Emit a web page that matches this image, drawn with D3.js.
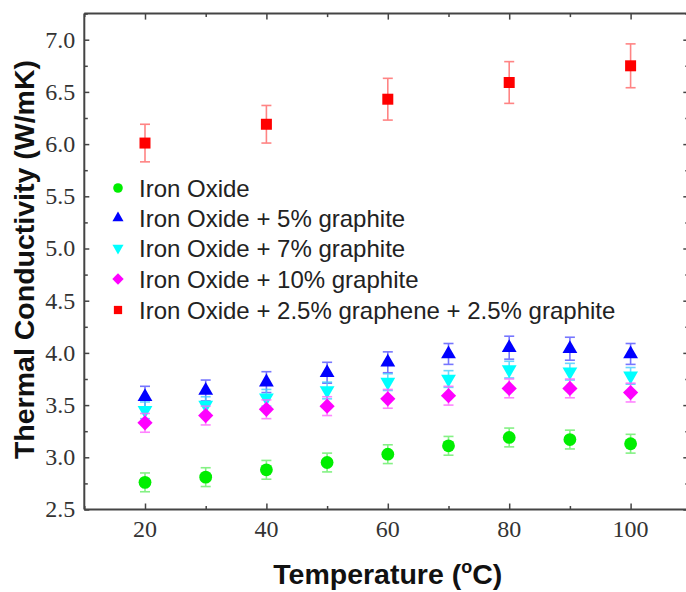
<!DOCTYPE html>
<html>
<head>
<meta charset="utf-8">
<script src="https://cdn.jsdelivr.net/npm/d3@7/dist/d3.min.js"></script>
<style>
  html, body { margin: 0; padding: 0; background: #fff; }
  svg { display: block; }
</style>
</head>
<body>
<svg id="chart" width="686" height="592"></svg>
<script>
// Temperatures (°C) at which conductivity was measured
const temperatures = [20, 30, 40, 50, 60, 70, 80, 90, 100];

// Thermal conductivity (W/mK) per sample, with ± error
const ironOxide      = [2.76, 2.81, 2.88, 2.95, 3.03, 3.11, 3.19, 3.17, 3.13];
const ironOxideErr   = [0.09, 0.09, 0.09, 0.09, 0.09, 0.09, 0.09, 0.09, 0.09];
const graphite5      = [3.58, 3.64, 3.72, 3.81, 3.91, 3.99, 4.05, 4.04, 3.99];
const graphite5Err   = [0.10, 0.10, 0.10, 0.10, 0.10, 0.10, 0.11, 0.11, 0.10];
const graphite7      = [3.45, 3.50, 3.57, 3.64, 3.72, 3.75, 3.84, 3.82, 3.78];
const graphite7Err   = [0.08, 0.08, 0.08, 0.08, 0.08, 0.08, 0.08, 0.08, 0.08];
const graphite10     = [3.33, 3.40, 3.46, 3.49, 3.56, 3.59, 3.66, 3.66, 3.62];
const graphite10Err  = [0.09, 0.09, 0.09, 0.09, 0.09, 0.09, 0.09, 0.09, 0.09];
const hybrid         = [6.01, 6.19, 6.43, 6.59, 6.75];
const hybridErr      = [0.18, 0.18, 0.20, 0.20, 0.21];
const hybridTemps    = [20, 40, 60, 80, 100];

const seriesNames = [
  "Iron Oxide",
  "Iron Oxide + 5% graphite",
  "Iron Oxide + 7% graphite",
  "Iron Oxide + 10% graphite",
  "Iron Oxide + 2.5% graphene + 2.5% graphite"
];

const xTicksMajor = [20, 40, 60, 80, 100];
const xTicksMinor = [10, 30, 50, 70, 90, 110];
const yTicksMajor = [2.5, 3.0, 3.5, 4.0, 4.5, 5.0, 5.5, 6.0, 6.5, 7.0];
const yTicksMinor = [2.75, 3.25, 3.75, 4.25, 4.75, 5.25, 5.75, 6.25, 6.75, 7.25];

const svg = d3.select("#chart");

const plotL = 84.3, plotR = 691.3, plotT = 13.6, plotB = 509.5;
const x = d3.scaleLinear().domain([10, 110]).range([plotL, plotR]);
const y = d3.scaleLinear().domain([2.5, 7.25]).range([plotB, plotT]);

const axisColor = "#444";
const labelColor = "#333";

// diamond path (square rotated 45°)
function diamondPath(r) {
  return `M0,${-r}L${r},0L0,${r}L${-r},0Z`;
}
const markerPath = {
  circle: d3.symbol().type(d3.symbolCircle).size(Math.PI * 6.4 * 6.4)(),
  triUp: d3.symbol().type(d3.symbolTriangle).size(95)(),
  square: `M-5.5,-5.5H5.5V5.5H-5.5Z`,
  diamond: diamondPath(7.6)
};

const series = [
  { name: seriesNames[0], xs: temperatures, vals: ironOxide,  errs: ironOxideErr,  color: "#00ee00", err: "#66ee66", shape: "circle" },
  { name: seriesNames[1], xs: temperatures, vals: graphite5,  errs: graphite5Err,  color: "#0000ff", err: "#5555ff", shape: "triUp" },
  { name: seriesNames[2], xs: temperatures, vals: graphite7,  errs: graphite7Err,  color: "#00ffff", err: "#44ccff", shape: "triDown" },
  { name: seriesNames[3], xs: temperatures, vals: graphite10, errs: graphite10Err, color: "#ff00ff", err: "#ff66ff", shape: "diamond" },
  { name: seriesNames[4], xs: hybridTemps,  vals: hybrid,     errs: hybridErr,     color: "#ff0000", err: "#ff6666", shape: "square" }
];

function drawMarker(g, shape, color) {
  if (shape === "triDown") {
    g.append("path").attr("d", markerPath.triUp).attr("transform", "rotate(180)").attr("fill", color);
  } else {
    g.append("path").attr("d", markerPath[shape]).attr("fill", color);
  }
}

// axis frame
const frame = svg.append("g").attr("stroke", axisColor).attr("stroke-width", 2).attr("fill", "none");
frame.append("line").attr("x1", plotL).attr("x2", plotR + 2).attr("y1", plotB).attr("y2", plotB);
frame.append("line").attr("x1", plotL).attr("x2", plotR + 2).attr("y1", plotT).attr("y2", plotT);
frame.append("line").attr("x1", plotL).attr("x2", plotL).attr("y1", plotT).attr("y2", plotB);
frame.append("line").attr("x1", plotR).attr("x2", plotR).attr("y1", plotT).attr("y2", plotB);

// inward ticks via d3 axes
function styleAxis(g) {
  g.select(".domain").remove();
  g.selectAll(".tick line").attr("stroke", axisColor).attr("stroke-width", 1.5);
}
svg.append("g").attr("transform", `translate(0,${plotB})`).call(d3.axisTop(x).tickValues(xTicksMajor).tickSize(6).tickFormat("")).call(styleAxis);
svg.append("g").attr("transform", `translate(0,${plotB})`).call(d3.axisTop(x).tickValues(xTicksMinor).tickSize(3.5).tickFormat("")).call(styleAxis);
svg.append("g").attr("transform", `translate(0,${plotT})`).call(d3.axisBottom(x).tickValues(xTicksMajor).tickSize(6).tickFormat("")).call(styleAxis);
svg.append("g").attr("transform", `translate(0,${plotT})`).call(d3.axisBottom(x).tickValues(xTicksMinor).tickSize(3.5).tickFormat("")).call(styleAxis);

svg.append("g").attr("transform", `translate(${plotL},0)`).call(d3.axisRight(y).tickValues(yTicksMajor).tickSize(5).tickFormat("")).call(styleAxis);
svg.append("g").attr("transform", `translate(${plotL},0)`).call(d3.axisRight(y).tickValues(yTicksMinor).tickSize(3.5).tickFormat("")).call(styleAxis);
svg.append("g").attr("transform", `translate(${plotR},0)`).call(d3.axisLeft(y).tickValues(yTicksMajor).tickSize(8).tickFormat("")).call(styleAxis);
svg.append("g").attr("transform", `translate(${plotR},0)`).call(d3.axisLeft(y).tickValues(yTicksMinor).tickSize(6).tickFormat("")).call(styleAxis);

// tick labels
svg.append("g").selectAll("text").data(xTicksMajor).join("text")
  .attr("x", d => x(d)).attr("y", plotB + 27)
  .attr("text-anchor", "middle")
  .attr("font-family", "'Liberation Serif', 'Times New Roman', serif")
  .attr("font-size", 24).attr("fill", labelColor)
  .text(d => d);
svg.append("g").selectAll("text").data(yTicksMajor).join("text")
  .attr("x", plotL - 9).attr("y", d => y(d)).attr("dy", "0.33em")
  .attr("text-anchor", "end")
  .attr("font-family", "'Liberation Serif', 'Times New Roman', serif")
  .attr("font-size", 24).attr("fill", labelColor)
  .text(d => d.toFixed(1));

// axis titles
const xt = svg.append("text")
  .attr("x", (plotL + plotR) / 2).attr("y", 584)
  .attr("text-anchor", "middle")
  .attr("font-family", "'Liberation Sans', Arial, sans-serif")
  .attr("font-weight", "bold").attr("font-size", 28.5).attr("fill", "#111");
xt.append("tspan").text("Temperature (");
xt.append("tspan").attr("font-size", 18).attr("dy", -11).text("o");
xt.append("tspan").attr("dy", 11).text("C)");

svg.append("text")
  .attr("transform", `translate(34,${(plotT + plotB) / 2 - 2}) rotate(-90)`)
  .attr("text-anchor", "middle")
  .attr("font-family", "'Liberation Sans', Arial, sans-serif")
  .attr("font-weight", "bold").attr("font-size", 28.5).attr("fill", "#111")
  .text("Thermal Conductivity (W/mK)");

// data: error bars then markers
const plot = svg.append("g");
series.forEach(s => {
  const pts = s.xs.map((t, i) => ({ t, v: s.vals[i], e: s.errs[i] }));
  const eb = plot.append("g").attr("stroke", s.err).attr("stroke-width", 1.6).attr("opacity", 0.8);
  pts.forEach(p => {
    const cx = x(p.t), y0 = y(p.v - p.e), y1 = y(p.v + p.e);
    eb.append("line").attr("x1", cx).attr("x2", cx).attr("y1", y0).attr("y2", y1);
    eb.append("line").attr("x1", cx - 5).attr("x2", cx + 5).attr("y1", y0).attr("y2", y0);
    eb.append("line").attr("x1", cx - 5).attr("x2", cx + 5).attr("y1", y1).attr("y2", y1);
  });
  pts.forEach(p => {
    const g = plot.append("g").attr("transform", `translate(${x(p.t)},${y(p.v)})`);
    drawMarker(g, s.shape, s.color);
  });
});

// legend
const legendRows = [188, 218, 248, 279, 310];
const legend = svg.append("g");
series.forEach((s, i) => {
  const g = legend.append("g").attr("transform", `translate(118,${legendRows[i]})`);
  const m = g.append("g").attr("transform", "scale(0.75)");
  drawMarker(m, s.shape, s.color);
  g.append("text").attr("x", 21).attr("y", 8.5)
    .attr("font-family", "'Liberation Sans', Arial, sans-serif")
    .attr("font-size", 24).attr("fill", "#222")
    .text(s.name);
});
</script>
</body>
</html>
